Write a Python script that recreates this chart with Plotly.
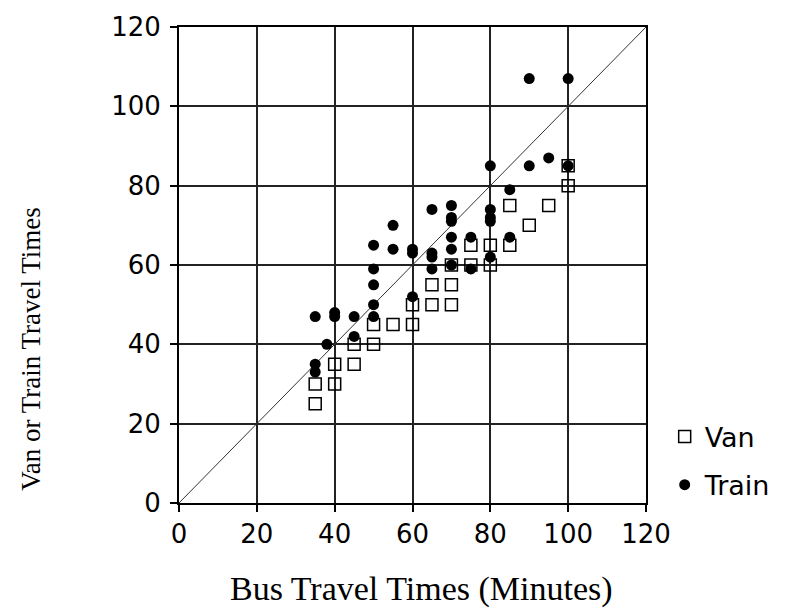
import plotly.graph_objects as go

# Van data (bus time, van time)
van_bus = [35, 35, 40, 40, 45, 45, 50, 50, 55, 60, 60, 65, 65, 70, 70, 70, 75, 75, 80, 80, 85, 85, 90, 95, 100, 100]
van_time = [30, 25, 35, 30, 40, 35, 45, 40, 45, 50, 45, 55, 50, 60, 55, 50, 65, 60, 65, 60, 75, 65, 70, 75, 85, 80]

# Train data (bus time, train time)
train_bus = [35, 35, 35, 38, 40, 40, 45, 45, 50, 50, 50, 50, 50, 55, 55, 60, 60, 60,
             65, 65, 65, 65, 70, 70, 70, 70, 70, 70, 75, 75, 80, 80, 80, 80, 80,
             85, 85, 90, 90, 95, 100, 100]
train_time = [47, 35, 33, 40, 48, 47, 47, 42, 65, 59, 55, 50, 47, 70, 64, 64, 63, 52,
              74, 63, 62, 59, 75, 72, 71, 67, 64, 60, 67, 59, 85, 74, 72, 71, 62,
              79, 67, 107, 85, 87, 107, 85]

ref_line = [0, 120]
tick_vals = [0, 20, 40, 60, 80, 100, 120]

fig = go.Figure()
fig.add_trace(go.Scatter(x=ref_line, y=ref_line, mode="lines",
                         line=dict(color="#333333", width=1),
                         showlegend=False, hoverinfo="skip"))
fig.add_trace(go.Scatter(x=van_bus, y=van_time, mode="markers", name="Van",
                         legendgroup="van",
                         marker=dict(symbol="square-open", size=12, color="black",
                                     line=dict(width=1.5, color="black"))))
fig.add_trace(go.Scatter(x=train_bus, y=train_time, mode="markers", name="Train",
                         legendgroup="train",
                         marker=dict(symbol="circle", size=11, color="black")))

axis_common = dict(
    range=[0, 120], tickvals=tick_vals, ticks="outside", ticklen=7, tickwidth=2,
    tickcolor="black", showline=True, linecolor="black", linewidth=2, mirror=True,
    showgrid=True, gridcolor="#222222", gridwidth=1.6, zeroline=False,
    tickfont=dict(family="DejaVu Sans", size=26, color="black"),
)
fig.update_xaxes(**axis_common)
fig.update_yaxes(**axis_common, ticklabelstandoff=4)

fig.update_layout(
    width=793, height=609,
    margin=dict(l=179, r=147, t=24, b=106),
    plot_bgcolor="white", paper_bgcolor="white",
    showlegend=True,
    legend=dict(x=1.04, y=0.19, xanchor="left", yanchor="top",
                font=dict(family="DejaVu Sans", size=27, color="black"),
                tracegroupgap=10, traceorder="grouped",
                bgcolor="rgba(0,0,0,0)", itemwidth=30),
    annotations=[
        dict(text="Bus Travel Times (Minutes)", xref="paper", yref="paper",
             x=0.52, y=-0.18, xanchor="center", yanchor="middle", showarrow=False,
             font=dict(family="Liberation Serif", size=34, color="black")),
        dict(text="Van or Train Travel Times", xref="paper", yref="paper",
             x=-0.317, y=0.324, xanchor="center", yanchor="middle", showarrow=False,
             textangle=-90,
             font=dict(family="Liberation Serif", size=27, color="black")),
    ],
)

fig.write_html("out.html")
